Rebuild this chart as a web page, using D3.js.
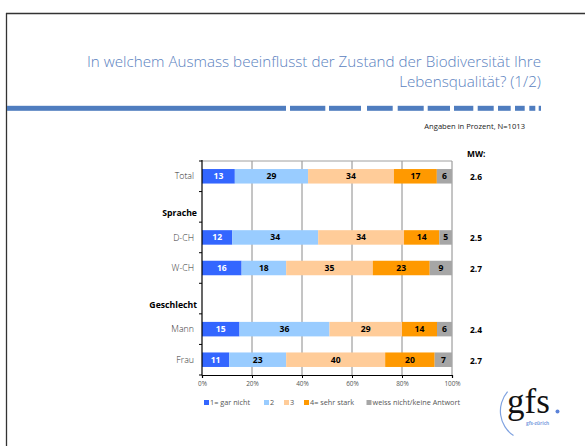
<!DOCTYPE html>
<html>
<head>
<meta charset="utf-8">
<script src="https://cdn.jsdelivr.net/npm/d3@7"></script>
<style>
html,body{margin:0;padding:0;background:#fff;}
svg{display:block;}
</style>
</head>
<body>
<svg id="chart" width="585" height="446" font-family="'Open Sans','Noto Sans',sans-serif"></svg>
<script>
// ---- data ----
const categories = ["Total", "Sprache", "D-CH", "W-CH", "Geschlecht", "Mann", "Frau"];
const headerRows = ["Sprache", "Geschlecht"];
const seriesNames = ["1= gar nicht", "2", "3", "4= sehr stark", "weiss nicht/keine Antwort"];
const garNicht   = [13, 0, 12, 16, 0, 15, 11];
const zwei       = [29, 0, 34, 18, 0, 36, 23];
const drei       = [34, 0, 34, 35, 0, 29, 40];
const sehrStark  = [17, 0, 14, 23, 0, 14, 20];
const weissNicht = [6, 0, 5, 9, 0, 6, 7];
const meanValues = [2.6, null, 2.5, 2.7, null, 2.4, 2.7];
const tickValues = [0, 0.2, 0.4, 0.6, 0.8, 1.0];
const colors = ["#3366FF", "#99CCFF", "#FFCC99", "#FF9900", "#A6A6A6"];
const labelColors = ["#ffffff", "#000000", "#000000", "#000000", "#000000"];
const titleLines = ["In welchem Ausmass beeinflusst der Zustand der Biodiversität Ihre", "Lebensqualität? (1/2)"];
const subtitle = "Angaben in Prozent, N=1013";

// ---- build table ----
const seriesArrays = [garNicht, zwei, drei, sehrStark, weissNicht];
const table = categories.map((c, i) => {
  const row = {cat: c};
  seriesNames.forEach((s, j) => row[s] = seriesArrays[j][i]);
  return row;
});

const svg = d3.select("#chart");

// page frame
svg.append("line").attr("x1", 6.5).attr("x2", 6.5).attr("y1", 13).attr("y2", 446)
  .attr("stroke", "#333").attr("stroke-width", 1.3);
svg.append("line").attr("x1", 6).attr("x2", 585).attr("y1", 13.5).attr("y2", 13.5)
  .attr("stroke", "#333").attr("stroke-width", 1.3);

// title
svg.selectAll("text.title").data(titleLines).enter().append("text")
  .attr("class", "title")
  .attr("x", 541).attr("y", (d, i) => 67 + i * 20)
  .attr("text-anchor", "end")
  .attr("font-size", 15.2)
  .attr("font-weight", 300)
  .attr("fill", "#5B82C0")
  .text(d => d);

// dashed rule
const ruleSegs = [[7,286],[290,325.3],[329,361],[367,392.7],[397.7,423.7],[427.7,450],[454,473.3],[477.7,493.7],[498,510.7],[515,524.7],[529.3,535.3],[538.7,541]];
svg.selectAll("rect.rule").data(ruleSegs).enter().append("rect")
  .attr("class", "rule")
  .attr("x", d => d[0]).attr("width", d => d[1] - d[0])
  .attr("y", 105.8).attr("height", 5)
  .attr("fill", "#4F7DBF");

svg.append("text").attr("x", 525).attr("y", 129).attr("text-anchor", "end")
  .attr("font-size", 7.6).attr("fill", "#222").text(subtitle);

// scales
const x = d3.scaleLinear().domain([0, 1]).range([202, 452]);
const y = d3.scaleBand().domain(categories).range([161, 375]).paddingInner(0).paddingOuter(0);
const barH = 14.5;

// gridlines
svg.append("g").selectAll("line").data(tickValues.slice(1)).enter().append("line")
  .attr("x1", d => x(d)).attr("x2", d => x(d))
  .attr("y1", 161).attr("y2", 375)
  .attr("stroke", "#8a8a8a").attr("stroke-width", 1);
svg.append("line").attr("x1", 202).attr("x2", 452).attr("y1", 161).attr("y2", 161)
  .attr("stroke", "#a0a0a0").attr("stroke-width", 1);

// stacked bars
const stack = d3.stack().keys(seriesNames).offset(d3.stackOffsetExpand);
const stacked = stack(table.map(r => {
  const o = Object.assign({}, r);
  if (headerRows.includes(r.cat)) seriesNames.forEach(s => o[s] = 0);
  return o;
}));

stacked.forEach((layer, k) => {
  const g = svg.append("g");
  const valid = layer.filter(d => !headerRows.includes(d.data.cat) && (d[1] - d[0]) > 0);
  g.selectAll("rect").data(valid).enter().append("rect")
    .attr("x", d => x(d[0]))
    .attr("width", d => x(d[1]) - x(d[0]))
    .attr("y", d => y(d.data.cat) + y.bandwidth() / 2 - barH / 2)
    .attr("height", barH)
    .attr("fill", colors[k]);
  g.selectAll("text").data(valid).enter().append("text")
    .attr("x", d => (x(d[0]) + x(d[1])) / 2)
    .attr("y", d => y(d.data.cat) + y.bandwidth() / 2)
    .attr("dy", "0.35em")
    .attr("text-anchor", "middle")
    .attr("font-size", 8.6).attr("font-weight", "bold")
    .attr("fill", labelColors[k])
    .text(d => d.data[layer.key]);
});

// left axis
svg.append("line").attr("x1", 202).attr("x2", 202).attr("y1", 160).attr("y2", 375.5)
  .attr("stroke", "#000").attr("stroke-width", 1.2);
const bounds = categories.map(c => y(c)).concat([375]);
svg.append("g").selectAll("line").data(bounds).enter().append("line")
  .attr("x1", 199).attr("x2", 202).attr("y1", d => d).attr("y2", d => d)
  .attr("stroke", "#000").attr("stroke-width", 1);

// category labels
svg.append("g").selectAll("text").data(categories).enter().append("text")
  .attr("x", d => headerRows.includes(d) ? 197 : 194)
  .attr("y", d => y(d) + y.bandwidth() / 2 + (headerRows.includes(d) ? 6 : 0))
  .attr("dy", "0.35em")
  .attr("text-anchor", "end")
  .attr("font-size", d => headerRows.includes(d) ? 8.7 : 8.8)
  .attr("font-weight", d => headerRows.includes(d) ? "bold" : 300)
  .attr("fill", d => headerRows.includes(d) ? "#000" : "#333")
  .text(d => d);

// bottom axis
const xAxis = d3.axisBottom(x).tickValues(tickValues).tickSize(3).tickFormat(d3.format(".0%"));
const gx = svg.append("g").attr("transform", "translate(0,375)").call(xAxis)
  .attr("font-family", null);
gx.select(".domain").attr("stroke", "#000").attr("stroke-width", 1.2);
gx.selectAll(".tick line").attr("stroke", "#000");
gx.selectAll(".tick text").attr("font-size", 6.4).attr("fill", "#555").attr("y", 6);

// MW column
svg.append("text").attr("x", 467).attr("y", 157).attr("font-size", 8.4)
  .attr("font-weight", "bold").attr("fill", "#000").text("MW:");
const mwData = categories.map((c, i) => ({cat: c, v: meanValues[i]})).filter(d => d.v !== null);
svg.append("g").selectAll("text").data(mwData).enter().append("text")
  .attr("x", 470)
  .attr("y", d => y(d.cat) + y.bandwidth() / 2 + 1)
  .attr("dy", "0.35em")
  .attr("font-size", 8.4).attr("font-weight", "bold").attr("fill", "#000")
  .text(d => d3.format(".1f")(d.v));

// legend
const legendX = [204, 264, 284, 304, 366.5];
const lg = svg.append("g");
seriesNames.forEach((s, k) => {
  lg.append("rect").attr("x", legendX[k]).attr("y", 400).attr("width", 5).attr("height", 5)
    .attr("fill", colors[k]);
  lg.append("text").attr("x", legendX[k] + 6).attr("y", 402.7).attr("dy", "0.35em")
    .attr("font-size", 7.3).attr("fill", "#555").text(s);
});

// gfs logo
const logo = svg.append("g");
const arc = d3.arc().innerRadius(29).outerRadius(30.2)
  .startAngle(-2.55).endAngle(-0.86);
logo.append("path").attr("d", arc()).attr("transform", "translate(530,411)").attr("fill", "#7FA2E0");
logo.append("text").attr("x", 507).attr("y", 413).attr("font-family", "'Liberation Serif','DejaVu Serif',serif")
  .attr("font-size", 35).attr("fill", "#111").text("gfs");
logo.append("circle").attr("cx", 557.5).attr("cy", 411.5).attr("r", 2).attr("fill", "#5B82D8");
logo.append("text").attr("x", 526).attr("y", 424.5)
  .attr("font-size", 4.8).attr("font-weight", "bold").attr("fill", "#7FA2E0").text("gfs-zürich");
</script>
</body>
</html>
